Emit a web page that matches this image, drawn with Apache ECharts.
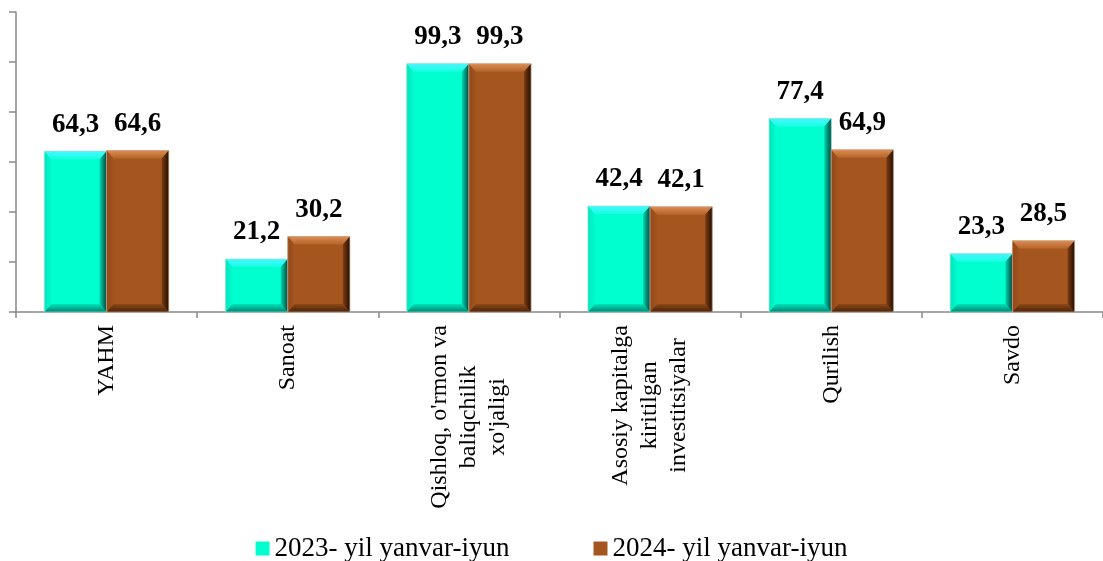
<!DOCTYPE html>
<html><head><meta charset="utf-8">
<script src="https://cdn.jsdelivr.net/npm/echarts@6/dist/echarts.min.js"></script>
<style>html,body{margin:0;padding:0;background:#fff}#c{width:1103px;height:561px}</style>
</head><body><div id="c"></div>
<script>
const categories = ['YAHM', 'Sanoat', "Qishloq, o'rmon va\nbaliqchilik\nxo'jaligi", "Asosiy kapitalga\nkiritilgan\ninvestitsiyalar", 'Qurilish', 'Savdo'];
const values2023 = [64.3, 21.2, 99.3, 42.4, 77.4, 23.3];
const values2024 = [64.6, 30.2, 99.3, 42.1, 64.9, 28.5];
const seriesNames = ['2023- yil yanvar-iyun', '2024- yil yanvar-iyun'];
const yMin = 0, yMax = 120, yInterval = 20;

const FONT = 'Liberation Serif, Times New Roman, serif';
const palettes = [
  {base: '#00FFCF', top: ['#45F6FF', '#18FFE2'], left: ['#00E6BE', '#00FCCD'], right: ['#00D6B0', '#00483C'], bottom: ['#00E2BA', '#00866E'], edge: '#9ADCD0'},
  {base: '#A5561E', top: ['#DC8C50', '#B5652A'], left: ['#92481A', '#A3551E'], right: ['#7C3C13', '#241003'], bottom: ['#8E4818', '#4A2309'], edge: '#C9A68C'}
];

function grad(x0, y0, x1, y1, c) {
  return new echarts.graphic.LinearGradient(x0, y0, x1, y1, [{offset: 0, color: c[0]}, {offset: 1, color: c[1]}]);
}

function makeRender(si) {
  const pal = palettes[si];
  return function (params, api) {
    const ci = api.value(0), v = api.value(1);
    const p0 = api.coord([ci, 0]), p1 = api.coord([ci, v]);
    const band = api.size([1, 0])[0];
    const w = band * 0.343;
    const x = si === 0 ? p0[0] - w : p0[0];
    const y = p1[1], h = p0[1] - p1[1];
    const d = Math.min(8, h / 2);
    const ds = 7;
    const r = x + w, b = y + h;
    const poly = (pts, fill) => ({type: 'polygon', shape: {points: pts}, style: {fill: fill}, silent: true});
    return {
      type: 'group',
      children: [
        {type: 'rect', shape: {x: x, y: y, width: w, height: h}, style: {fill: pal.base}},
        poly([[x, y], [x + ds, y + d], [x + ds, b - d], [x, b]], grad(0, 0, 1, 0, pal.left)),
        poly([[x, y], [r, y], [r - ds, y + d], [x + ds, y + d]], grad(0, 0, 0, 1, pal.top)),
        poly([[x, b], [x + ds, b - d], [r - ds, b - d], [r, b]], grad(0, 0, 0, 1, pal.bottom)),
        poly([[r, y], [r, b], [r - ds, b - d], [r - ds, y + d]], grad(0, 0, 1, 0, pal.right)),
        {type: 'rect', silent: true, shape: {x: x, y: y, width: w, height: h}, style: {fill: 'none', stroke: pal.edge, lineWidth: 0.7}},
        {type: 'text', silent: true, style: {
          text: v.toFixed(1).replace('.', ','), x: x + w / 2, y: y - 13,
          align: 'center', verticalAlign: 'bottom',
          font: 'bold 27px ' + FONT, fill: '#000'
        }}
      ]
    };
  };
}

const chart = echarts.init(document.getElementById('c'), null, {renderer: 'canvas'});
chart.setOption({
  animation: false,
  backgroundColor: '#fff',
  grid: {left: 16, right: -8, top: 12, bottom: 249, containLabel: false},
  legend: {
    top: 530, left: 'center', itemGap: 84, itemWidth: 14, itemHeight: 14, icon: 'rect',
    textStyle: {fontFamily: FONT, fontSize: 27, color: '#000'},
    data: seriesNames
  },
  xAxis: {
    type: 'category', data: categories,
    axisLine: {lineStyle: {color: '#898989', width: 1.5}},
    axisTick: {show: true, length: 6, lineStyle: {color: '#898989', width: 1.5}},
    axisLabel: {
      rotate: 90, margin: 13, interval: 0,
      formatter: v => v.split('\n').map(s => '{c|' + s + '}').join('\n'),
      rich: {c: {align: 'center', fontFamily: FONT, fontSize: 24, lineHeight: 29, color: '#000'}}
    }
  },
  yAxis: {
    type: 'value', min: yMin, max: yMax, interval: yInterval,
    axisLine: {show: true, lineStyle: {color: '#898989', width: 1.5}},
    axisTick: {show: true, length: 7, lineStyle: {color: '#898989', width: 1.5}},
    axisLabel: {show: false},
    splitLine: {show: false}
  },
  series: [values2023, values2024].map((vals, si) => ({
    type: 'custom', name: seriesNames[si],
    itemStyle: {color: palettes[si].base},
    encode: {x: 0, y: 1},
    data: vals.map((v, i) => [i, v]),
    renderItem: makeRender(si)
  }))
});
</script></body></html>
